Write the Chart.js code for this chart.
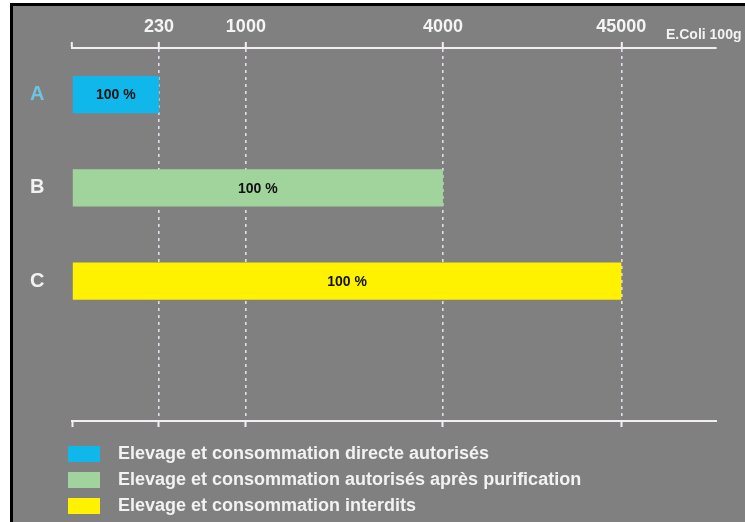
<!DOCTYPE html>
<html>
<head>
<meta charset="utf-8">
<script src="https://cdn.jsdelivr.net/npm/chart.js@4/dist/chart.umd.min.js"></script>
<style>
  html, body { margin: 0; padding: 0; background: #ffffff; }
  #frame { position: absolute; left: 10px; top: 3px; width: 735px; height: 519px;
           background: #808080; border-left: 3px solid #000; border-top: 3px solid #000; box-sizing: border-box; }
  #wrap { position: absolute; left: 0; top: 0; width: 745px; height: 522px; }
</style>
</head>
<body>
<div id="frame"></div>
<div id="wrap"><canvas id="c" width="745" height="522"></canvas></div>
<script>
// ---- data ----
const categories = ['A', 'B', 'C'];
const seriesNames = [
  'Elevage et consommation directe autorisés',
  'Elevage et consommation autorisés après purification',
  'Elevage et consommation interdits'
];
const upperLimits = [230, 4000, 45000];          // E.Coli / 100g
const shares = [100, 100, 100];                  // % shown in each bar
const tickValues = [0, 230, 1000, 4000, 45000];
const tickLabels = ['', '230', '1000', '4000', '45000'];
const axisUnit = 'E.Coli 100g';
const seriesColors = ['#0fb7ea', '#a0d49c', '#fff200'];

// The original axis is not drawn to scale: each threshold sits at its own
// place along the axis (value -> fraction of the axis length).
const axisStops = [[0, 0], [230, 0.135], [1000, 0.270], [4000, 0.576], [45000, 0.853], [50000, 1]];

class PiecewiseScale extends Chart.LinearScale {
  getPixelForValue(value) {
    if (value === null || value === undefined || isNaN(value)) return NaN;
    let f = 0;
    for (let i = 1; i < axisStops.length; i++) {
      if (value <= axisStops[i][0] || i === axisStops.length - 1) {
        const [v0, f0] = axisStops[i - 1], [v1, f1] = axisStops[i];
        f = f0 + (value - v0) / (v1 - v0) * (f1 - f0);
        break;
      }
    }
    return this.getPixelForDecimal(f);
  }
  getValueForPixel(pixel) {
    const d = this.getDecimalForPixel(pixel);
    for (let i = 1; i < axisStops.length; i++) {
      if (d <= axisStops[i][1] || i === axisStops.length - 1) {
        const [v0, f0] = axisStops[i - 1], [v1, f1] = axisStops[i];
        return v0 + (d - f0) / (f1 - f0) * (v1 - v0);
      }
    }
    return 0;
  }
}
PiecewiseScale.id = 'piecewise';
PiecewiseScale.defaults = {};
Chart.register(PiecewiseScale);

const FONT = "'Liberation Sans', Arial, Helvetica, sans-serif";
const axisWhite = '#f4eef4';

// legend swatch: a 32x16 coloured box followed by a transparent gap
function swatch(color) {
  const cv = document.createElement('canvas');
  cv.width = 41; cv.height = 16;
  const g = cv.getContext('2d');
  g.fillStyle = color;
  g.fillRect(0, 0, 32, 16);
  return cv;
}

const datasets = seriesNames.map((name, i) => ({
  label: name,
  data: categories.map((c, j) => (j === i ? upperLimits[i] : null)),
  backgroundColor: seriesColors[i],
  borderWidth: 0,
  grouped: false,
  barPercentage: 0.4,
  categoryPercentage: 1,
  pointStyle: swatch(seriesColors[i])
}));

const barLabelPlugin = {
  id: 'barLabels',
  afterDatasetsDraw(chart) {
    const ctx = chart.ctx;
    ctx.save();
    ctx.font = 'bold 14px ' + FONT;
    ctx.fillStyle = '#111111';
    ctx.textAlign = 'center';
    ctx.textBaseline = 'middle';
    chart.data.datasets.forEach((ds, i) => {
      const meta = chart.getDatasetMeta(i);
      const el = meta.data[i];
      if (!el) return;
      ctx.fillText(shares[i] + ' %', (el.x + el.base) / 2, el.y + 1);
    });
    ctx.restore();
  }
};

const unitPlugin = {
  id: 'axisUnit',
  afterDraw(chart) {
    const ctx = chart.ctx;
    const s = chart.scales.x;
    ctx.save();
    ctx.font = 'bold 14px ' + FONT;
    ctx.fillStyle = '#f2f2f2';
    ctx.textAlign = 'left';
    ctx.textBaseline = 'middle';
    ctx.fillText(axisUnit, s.right - 50, s.bottom - 13);
    ctx.restore();
  }
};

const setTicks = s => { s.ticks = tickValues.map(v => ({ value: v })); };

new Chart(document.getElementById('c'), {
  type: 'bar',
  data: { labels: [...categories, ''], datasets },
  options: {
    indexAxis: 'y',
    responsive: false,
    animation: false,
    devicePixelRatio: 1,
    layout: { padding: { left: 60, right: 29, top: 0, bottom: -3 } },
    scales: {
      x: {
        type: 'piecewise',
        position: 'top',
        min: 0, max: 50000,
        afterBuildTicks: setTicks,
        afterFit: s => { s.height = 48; },
        border: { display: true, color: axisWhite, width: 2, dash: [3, 4] },
        grid: {
          drawOnChartArea: true,
          color: c => (c.tick && c.tick.value === 0 ? 'rgba(0,0,0,0)' : '#e4dcea'),
          lineWidth: 1.6,
          tickLength: 6,
          tickColor: axisWhite,
          tickWidth: 2,
          tickBorderDash: []
        },
        ticks: {
          autoSkip: false, maxRotation: 0, padding: 4,
          color: '#f4f4f4',
          font: { family: FONT, weight: 'bold', size: 18 },
          callback: v => tickLabels[tickValues.indexOf(v)] ?? ''
        }
      },
      x2: {
        type: 'piecewise',
        axis: 'x',
        position: 'bottom',
        min: 0, max: 50000,
        afterBuildTicks: setTicks,
        afterFit: s => { s.height = 16; },
        border: { display: true, color: axisWhite, width: 2 },
        grid: { drawOnChartArea: false, tickLength: 6, tickColor: axisWhite, tickWidth: 2 },
        ticks: { display: false }
      },
      y: {
        type: 'category',
        offset: true,
        afterFit: s => { s.width = 12; },
        grid: { display: false },
        border: { display: false },
        ticks: {
          mirror: true,
          crossAlign: 'center',
          padding: -42,
          color: c => (c.index === 0 ? '#6cc4e4' : '#f2f2f2'),
          font: { family: FONT, weight: 'bold', size: 20 }
        }
      }
    },
    plugins: {
      tooltip: { enabled: false },
      legend: {
        position: 'bottom',
        align: 'start',
        labels: {
          usePointStyle: true,
          pointStyleWidth: 41,
          boxWidth: 32, boxHeight: 16, padding: 8,
          color: '#f2f2f2',
          font: { family: FONT, weight: 'bold', size: 18 }
        }
      }
    }
  },
  plugins: [barLabelPlugin, unitPlugin]
});
</script>
</body>
</html>
